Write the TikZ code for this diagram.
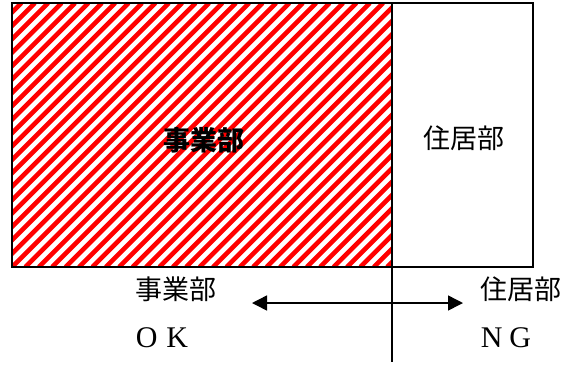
\documentclass[tikz,border=0pt]{standalone}
\usepackage{fontspec}
\newfontfamily\cjk{Noto Sans CJK JP}
\newfontfamily\latinserif{Liberation Serif}
\usetikzlibrary{arrows.meta}
\tikzset{
  box/.style={draw=black, line width=1.5pt, inner sep=0pt},
  lbl/.style={font=\cjk\fontsize{27}{27}\selectfont, inner sep=0pt},
  okng/.style={font=\latinserif\fontsize{30}{30}\selectfont, inner sep=0pt},
  arr/.style={line width=1.5pt, {Triangle[length=15pt,width=15pt]}-{Triangle[length=15pt,width=15pt]}}
}
\begin{document}
\begin{tikzpicture}[x=1pt,y=-1pt]
\useasboundingbox (0,0) rectangle (569,365);
% hatched business part
\begin{scope}
  \clip (12,3) rectangle (392,267);
  \foreach \k in {-20,...,30} {
    \draw[red, line width=4.6pt] ({12+\k*13.4},267) -- ({12+\k*13.4+264},3);
  }
\end{scope}
\node[box, minimum width=380pt, minimum height=264pt] (biz) at (202,135) {};
\node[box, minimum width=141pt, minimum height=264pt] (res) at (462.5,135) {};
\node[lbl, font=\cjk\bfseries\fontsize{27}{27}\selectfont] (bizlbl) at (204,140) {事業部};
\node[lbl] (reslbl) at (464,138) {住居部};
% divider line and arrow
\coordinate (vtop) at (392,267);
\coordinate (vbot) at (392,362);
\draw[line width=1.5pt] (vtop) -- (vbot);
\coordinate (aleft) at (252,303);
\coordinate (aright) at (463,303);
\draw[arr] (aleft) -- (aright);
\node[lbl] (bizb) at (176,289) {事業部};
\node[lbl] (resb) at (521,289) {住居部};
\node[okng] (ok) at (162,338) {O\hspace{9pt}K};
\node[okng] (ng) at (506,338) {N\hspace{7pt}G};
\end{tikzpicture}
\end{document}
